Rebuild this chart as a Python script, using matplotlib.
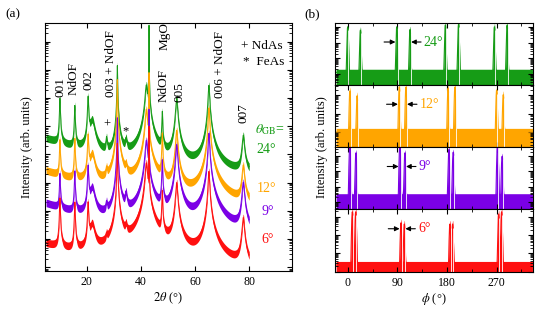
import numpy as np
import matplotlib
matplotlib.use('Agg')
import matplotlib.pyplot as plt
from matplotlib.ticker import LogLocator, MultipleLocator, NullFormatter, FixedLocator

plt.rcParams['font.family'] = ['Liberation Serif', 'DejaVu Serif']
plt.rcParams['mathtext.fontset'] = 'stix'
plt.rcParams['xtick.direction'] = 'in'
plt.rcParams['ytick.direction'] = 'in'

# sample names / colours (top to bottom)
angles = ['24°', '12°', '9°', '6°']
colors = ['#169c16', '#ffa500', '#7b00e6', '#ff1010']

# ---- (a) 2theta scans: peak table shared by all samples ----
peak_pos = [10.1, 15.6, 20.5, 22.0, 27.3, 31.3, 34.5, 42.0, 43.0, 47.9, 53.2, 65.1, 77.8]
peak_hw = [0.12, 0.12, 0.15, 0.8, 0.2, 0.07, 0.3, 0.35, 0.018, 0.12, 0.3, 0.22, 0.35]
# log10 peak heights for each sample
amp_24 = [5.98, 5.72, 6.05, 5.2, 4.4, 7.15, 4.3, 6.45, 8.58, 5.5, 6.0, 6.45, 4.65]
amp_12 = [4.5, 4.55, 4.7, 4.0, 3.2, 6.65, 3.3, 5.6, 6.9, 4.75, 4.85, 5.65, 3.6]
amp_9 = [3.3, 3.4, 3.6, 2.8, 2.0, 5.3, 2.5, 4.5, 5.6, 3.8, 4.35, 4.75, 3.0]
amp_6 = [2.45, 2.3, 2.3, 1.5, 0.7, 4.4, 1.2, 3.7, 5.0, 2.7, 3.0, 3.4, 1.75]
# log10 flat background and low-angle background
bg_flat = [3.15, 1.9, 0.7, -0.9]
bg_low = [4.75, 3.6, 2.45, 1.0]

# ---- (b) phi scans ----
phi_24 = [0, 23, 89, 113, 177, 201, 266, 289]
phi_12 = [4, 17, 93.5, 105.6, 182, 194.4, 270, 282]
phi_9 = [4, 15, 94.7, 103.8, 183.5, 191.3, 271.7, 280]
phi_6 = [8.4, 14.5, 96.6, 102.6, 185.3, 190.2, 273.6, 279]
ph_24 = [4.0, 3.79, 4.0, 3.83, 4.11, 4.17, 4.0, 4.11]
ph_12 = [3.23, 2.96, 3.44, 3.44, 3.37, 3.44, 3.27, 3.02]
ph_9 = [3.8, 3.23, 3.8, 3.23, 3.45, 3.27, 3.8, 3.0]
ph_6 = [3.27, 3.27, 2.67, 2.6, 2.6, 2.6, 3.15, 3.27]
phi_base = [1.1, 1.0, 0.33, 0.36]

amps = [amp_24, amp_12, amp_9, amp_6]
phis = [phi_24, phi_12, phi_9, phi_6]
phs = [ph_24, ph_12, ph_9, ph_6]

fig = plt.figure(figsize=(5.45, 3.12), dpi=100)

# ================= panel (a) =================
ax = fig.add_axes([0.0826, 0.1324, 0.4532, 0.7939])
tt = np.arange(5, 80.0001, 0.005)
for i in range(4):
    I = 10**bg_flat[i] + 10**bg_low[i] * np.exp(-tt / 12.0)
    for c, w, a in zip(peak_pos, peak_hw, amps[i]):
        I = I + 10**a / (1 + ((tt - c) / w)**2)
    ax.fill_between(tt, I * 10**-0.15, I * 10**0.12, color=colors[i], lw=0)
    ax.plot(tt, I, color=colors[i], lw=0.7)

ax.set_yscale('log')
ax.set_xlim(4.6, 95.8)
ax.set_ylim(10**-0.12, 10**8.66)
ax.xaxis.set_major_locator(FixedLocator([20, 40, 60, 80]))
ax.yaxis.set_major_locator(LogLocator(base=10, numticks=20))
ax.yaxis.set_minor_locator(LogLocator(base=10, subs=np.arange(2, 10), numticks=20))
ax.yaxis.set_major_formatter(NullFormatter())
ax.yaxis.set_minor_formatter(NullFormatter())
ax.tick_params(which='both', top=True, right=True, labelsize=8.5)
ax.tick_params(which='major', length=3.5, width=0.8)
ax.tick_params(which='minor', length=2, width=0.6)
ax.set_xlabel(r'$2\theta$ (°)', fontsize=9, labelpad=2)
ax.set_ylabel('Intensity (arb. units)', fontsize=9, labelpad=5)

fs = 9.5
for txt, x, y in [('001', 10.15, 10**6.04), ('NdOF', 15.1, 10**6.1),
                  ('002', 20.5, 10**6.29), ('003 + NdOF', 28.8, 10**6.05),
                  ('MgO', 48.9, 10**7.7), ('NdOF', 48.4, 10**5.87),
                  ('005', 54.1, 10**5.87), ('006 + NdOF', 69.2, 10**6.0),
                  ('007', 77.8, 10**5.12)]:
    ax.text(x, y, txt, rotation=90, ha='center', va='bottom', fontsize=fs)
ax.text(27.6, 10**5.05, '+', ha='center', va='center', fontsize=9)
ax.text(34.5, 10**4.83, '*', ha='center', va='center', fontsize=9)
ax.text(76.8, 10**7.86, '+ NdAs', ha='left', va='center', fontsize=fs)
ax.text(77.8, 10**7.27, '*  FeAs', ha='left', va='center', fontsize=fs)
ax.text(82.2, 10**4.87, r'$\theta_{\mathrm{GB}}$=', color=colors[0], ha='left', va='center', fontsize=10)
for i, (x, y) in enumerate([(82.7, 10**4.16), (82.7, 10**2.8), (84.6, 10**1.97), (84.6, 10**0.97)]):
    ax.text(x, y, angles[i], color=colors[i], ha='left', va='center', fontsize=10)
fig.text(0.01, 0.953, '(a)', fontsize=9.5, va='center')

# ================= panel (b) =================
ylims = [(0.3, 4.26), (0.18, 3.55), (-0.51, 3.6), (0.0, 3.4)]
pp = np.arange(-21, 335, 0.05)
h = 0.1995
for i in range(4):
    axb = fig.add_axes([0.6147, 0.1292 + (3 - i) * h, 0.3633, h])
    lo, hi = ylims[i]
    I = 10**phi_base[i] * np.ones_like(pp)
    for c, a in zip(phis[i], phs[i]):
        I = I + 10**a * np.exp(-(pp - c)**2 / (2 * 0.7**2))
    axb.fill_between(pp, 10**lo, I * 10**0.2, color=colors[i], lw=0)
    axb.plot(pp, I, color=colors[i], lw=0.8)
    axb.vlines(np.array(phis[i]) + 1.4, 10**lo, 10**(np.array(phs[i]) - 0.2), color='white', lw=0.6)
    axb.set_yscale('log')
    axb.set_ylim(10**lo, 10**hi)
    axb.set_xlim(-23, 336)
    axb.xaxis.set_major_locator(FixedLocator([0, 90, 180, 270]))
    axb.xaxis.set_minor_locator(MultipleLocator(45))
    axb.yaxis.set_major_locator(LogLocator(base=10, numticks=20))
    axb.yaxis.set_minor_locator(LogLocator(base=10, subs=np.arange(2, 10), numticks=20))
    axb.yaxis.set_major_formatter(NullFormatter())
    axb.yaxis.set_minor_formatter(NullFormatter())
    axb.tick_params(which='both', top=True, right=True, labelsize=8.5)
    axb.tick_params(which='major', length=3.5, width=0.8)
    axb.tick_params(which='minor', length=2, width=0.6)
    if i < 3:
        axb.tick_params(labelbottom=False)
    else:
        axb.set_xlabel(r'$\phi$ (°)', fontsize=9, labelpad=2)
    # arrows on the middle pair
    pl, pr = phis[i][2], phis[i][3]
    yy = 0.69
    axb.annotate('', xy=(pl - 2.5, yy), xycoords=('data', 'axes fraction'),
                 xytext=(pl - 23, yy), textcoords=('data', 'axes fraction'),
                 arrowprops=dict(arrowstyle='-|>', color='k', lw=0.8, mutation_scale=7,
                                 shrinkA=0, shrinkB=0))
    axb.annotate('', xy=(pr + 2, yy), xycoords=('data', 'axes fraction'),
                 xytext=(pr + 20, yy), textcoords=('data', 'axes fraction'),
                 arrowprops=dict(arrowstyle='-|>', color='k', lw=0.8, mutation_scale=7,
                                 shrinkA=0, shrinkB=0))
    axb.text(pr + 25, yy, angles[i], color=colors[i], transform=axb.get_xaxis_transform(),
             ha='left', va='center', fontsize=10)

fig.text(0.59, 0.53, 'Intensity (arb. units)', rotation=90, ha='center', va='center', fontsize=9)
fig.text(0.558, 0.953, '(b)', fontsize=9.5, va='center')

fig.savefig('out.png', dpi=100)
